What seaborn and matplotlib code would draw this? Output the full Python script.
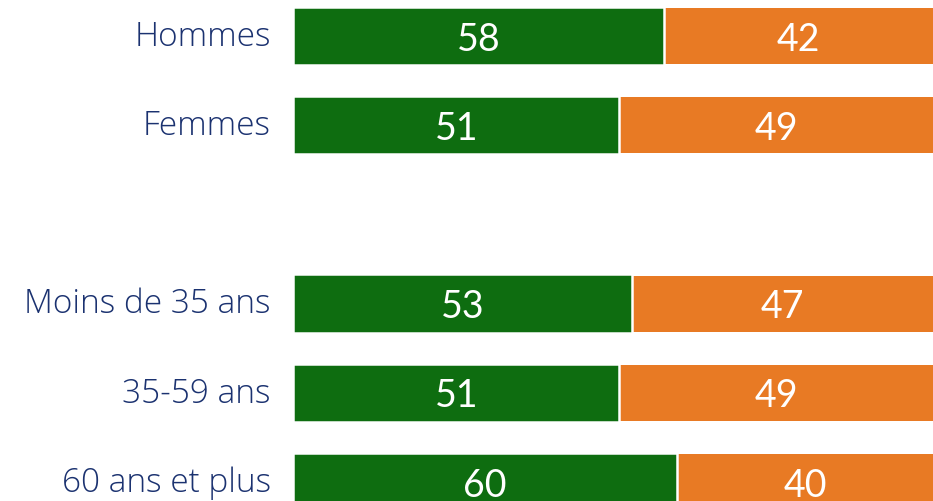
import matplotlib
matplotlib.use("Agg")
import matplotlib.pyplot as plt
import matplotlib.transforms as mtransforms
import seaborn as sns
import numpy as np
import pandas as pd

categories = ["Hommes", "Femmes", " ", "Moins de 35 ans", "35-59 ans", "60 ans et plus"]
green_vals = [58, 51, np.nan, 53, 51, 60]
orange_vals = [42, 49, np.nan, 47, 49, 40]

GREEN = "#0E6D10"
ORANGE = "#E87A24"
NAVY = "#1B3270"

sns.set_theme(style="white")
plt.rcParams["font.family"] = ["Lato", "DejaVu Sans"]

df = pd.DataFrame({"cat": categories, "green": green_vals, "orange": orange_vals})
df["total"] = df["green"] + df["orange"]

fig = plt.figure(figsize=(9.33, 5.01), dpi=100)
ax = fig.add_axes([293 / 933, 0, 640 / 933, 1])

BAR_H = 0.628
sns.barplot(data=df, y="cat", x="total", order=categories, color=ORANGE,
            width=BAR_H, ax=ax, saturation=1, errorbar=None, linewidth=0)
sns.barplot(data=df, y="cat", x="green", order=categories, color=GREEN,
            width=BAR_H + 2.4 / 89.2, ax=ax, saturation=1, errorbar=None,
            edgecolor="white", linewidth=1.8)

for i, (g, o) in enumerate(zip(green_vals, orange_vals)):
    if np.isnan(g):
        continue
    ax.text(g / 2, i, f"{g:.0f}", ha="center", va="center_baseline", color="white", fontsize=27)
    ax.text(g + o / 2, i, f"{o:.0f}", ha="center", va="center_baseline", color="white", fontsize=27)

ax.set_xlim(0, 100)
ax.set_ylim(5.213, -0.4036)
ax.set_xlabel("")
ax.set_ylabel("")
ax.set_xticks([])
ax.tick_params(axis="y", length=0, pad=16)
shift = mtransforms.ScaledTranslation(0, 3 / 100, fig.dpi_scale_trans)
for lab in ax.get_yticklabels():
    lab.set_fontsize(24)
    lab.set_color(NAVY)
    lab.set_family(["Open Sans", "DejaVu Sans"])
    lab.set_fontweight("light")
    lab.set_verticalalignment("center_baseline")
    lab.set_transform(lab.get_transform() + shift)
for s in ax.spines.values():
    s.set_visible(False)

fig.savefig("out.png", dpi=100)
